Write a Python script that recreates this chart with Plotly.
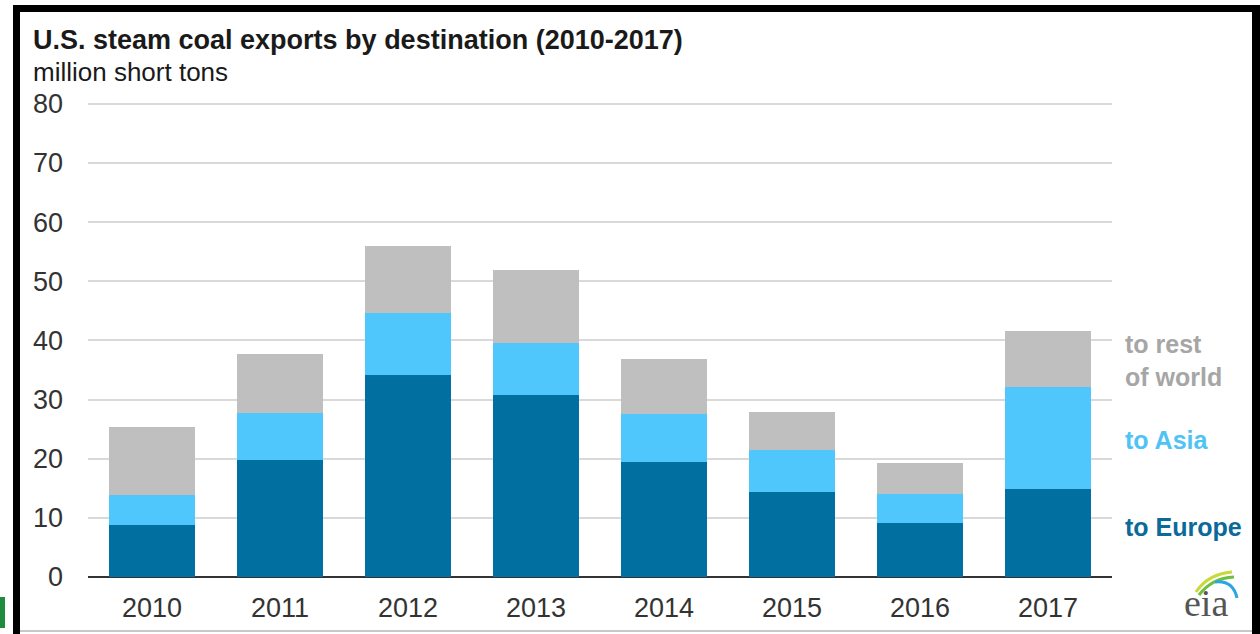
import plotly.graph_objects as go

years = ["2010", "2011", "2012", "2013", "2014", "2015", "2016", "2017"]
europe = [8.8, 19.7, 34.1, 30.8, 19.5, 14.4, 9.1, 14.8]
asia = [5.0, 8.0, 10.6, 8.7, 8.1, 7.0, 4.9, 17.4]
rest_of_world = [11.5, 10.0, 11.2, 12.4, 9.2, 6.5, 5.2, 9.4]
y_ticks = [0, 10, 20, 30, 40, 50, 60, 70, 80]

W, H = 1260, 634
YMAX = 80.3
L, R, B = 88, 1112, 577
T = round(B - (B - 104) * YMAX / 80)


def px(x):
    return (x - L) / (R - L)


def py(y):
    return (B - y) / (B - T)


fig = go.Figure()
fig.add_bar(x=years, y=europe, name="to Europe", marker_color="#0170a0", marker_line_width=0)
fig.add_bar(x=years, y=asia, name="to Asia", marker_color="#4fc7fc", marker_line_width=0)
fig.add_bar(x=years, y=rest_of_world, name="to rest of world", marker_color="#bfbfbf", marker_line_width=0)

font_family = "Liberation Sans, Arial, sans-serif"

fig.update_layout(
    width=W, height=H,
    margin=dict(l=L, r=W - R, t=T, b=H - B, pad=0),
    barmode="stack",
    bargap=0.33,
    showlegend=False,
    plot_bgcolor="white",
    paper_bgcolor="white",
    font=dict(family=font_family, color="#333333"),
    xaxis=dict(
        type="category",
        range=[-0.5, 7.5],
        showgrid=False,
        showline=False,
        ticks="",
        tickfont=dict(size=27, color="#333333"),
        ticklabelstandoff=12,
        zeroline=False,
    ),
    yaxis=dict(
        range=[0, YMAX],
        tickvals=y_ticks,
        showgrid=True,
        gridcolor="#d9d9d9",
        gridwidth=2,
        zeroline=True,
        zerolinecolor="#333333",
        zerolinewidth=2,
        showline=False,
        ticks="",
        tickfont=dict(size=27, color="#333333"),
        ticklabelstandoff=24,
    ),
)

annotations = [
    dict(text="<b>U.S. steam coal exports by destination (2010-2017)</b>", x=px(31), y=py(23),
         xanchor="left", yanchor="top", font=dict(size=27, color="#1a1a1a")),
    dict(text="million short tons", x=px(31), y=py(55),
         xanchor="left", yanchor="top", font=dict(size=26, color="#1a1a1a")),
    dict(text="<b>to rest<br>of world</b>", x=px(1123), y=py(360),
         xanchor="left", yanchor="middle", align="left",
         font=dict(size=25, color="#a6a6a6")),
    dict(text="<b>to Asia</b>", x=px(1123), y=py(440),
         xanchor="left", yanchor="middle", align="left",
         font=dict(size=25, color="#4fc3f5")),
    dict(text="<b>to Europe</b>", x=px(1123), y=py(527),
         xanchor="left", yanchor="middle", align="left",
         font=dict(size=25, color="#0b6a99")),
    dict(text="eia", x=px(1206), y=py(603),
         xanchor="center", yanchor="middle",
         font=dict(size=38, color="#555555", family="Liberation Serif, Times New Roman, serif")),
]
for a in annotations:
    a.update(xref="paper", yref="paper", showarrow=False)
fig.update_layout(annotations=annotations)


def rect(x0, y0, x1, y1, color):
    return dict(type="rect", xref="paper", yref="paper",
                x0=px(x0), x1=px(x1), y0=py(y0), y1=py(y1),
                fillcolor=color, line=dict(width=0), layer="above")


def quad(p0, c, p1, color, width):
    d = (f"M {px(p0[0]):.5f},{py(p0[1]):.5f} Q {px(c[0]):.5f},{py(c[1]):.5f} "
         f"{px(p1[0]):.5f},{py(p1[1]):.5f}")
    return dict(type="path", xref="paper", yref="paper", path=d,
                line=dict(color=color, width=width), layer="above")


shapes = [
    rect(13, 5, 1260, 12, "black"),
    rect(13, 5, 20, 634, "black"),
    rect(1252, 5, 1260, 634, "black"),
    rect(20, 630, 1252, 632, "#c8c8c8"),
    rect(0, 597, 5, 628, "#1e8c3c"),
    quad((1196, 592), (1208, 574), (1232, 572), "#c9d93a", 3),
    quad((1199, 595), (1212, 578), (1234, 577), "#6cbf3f", 3),
    quad((1215, 582), (1233, 580), (1237, 598), "#2aa7e0", 3),
]
fig.update_layout(shapes=shapes)

fig.write_html("out.html")
